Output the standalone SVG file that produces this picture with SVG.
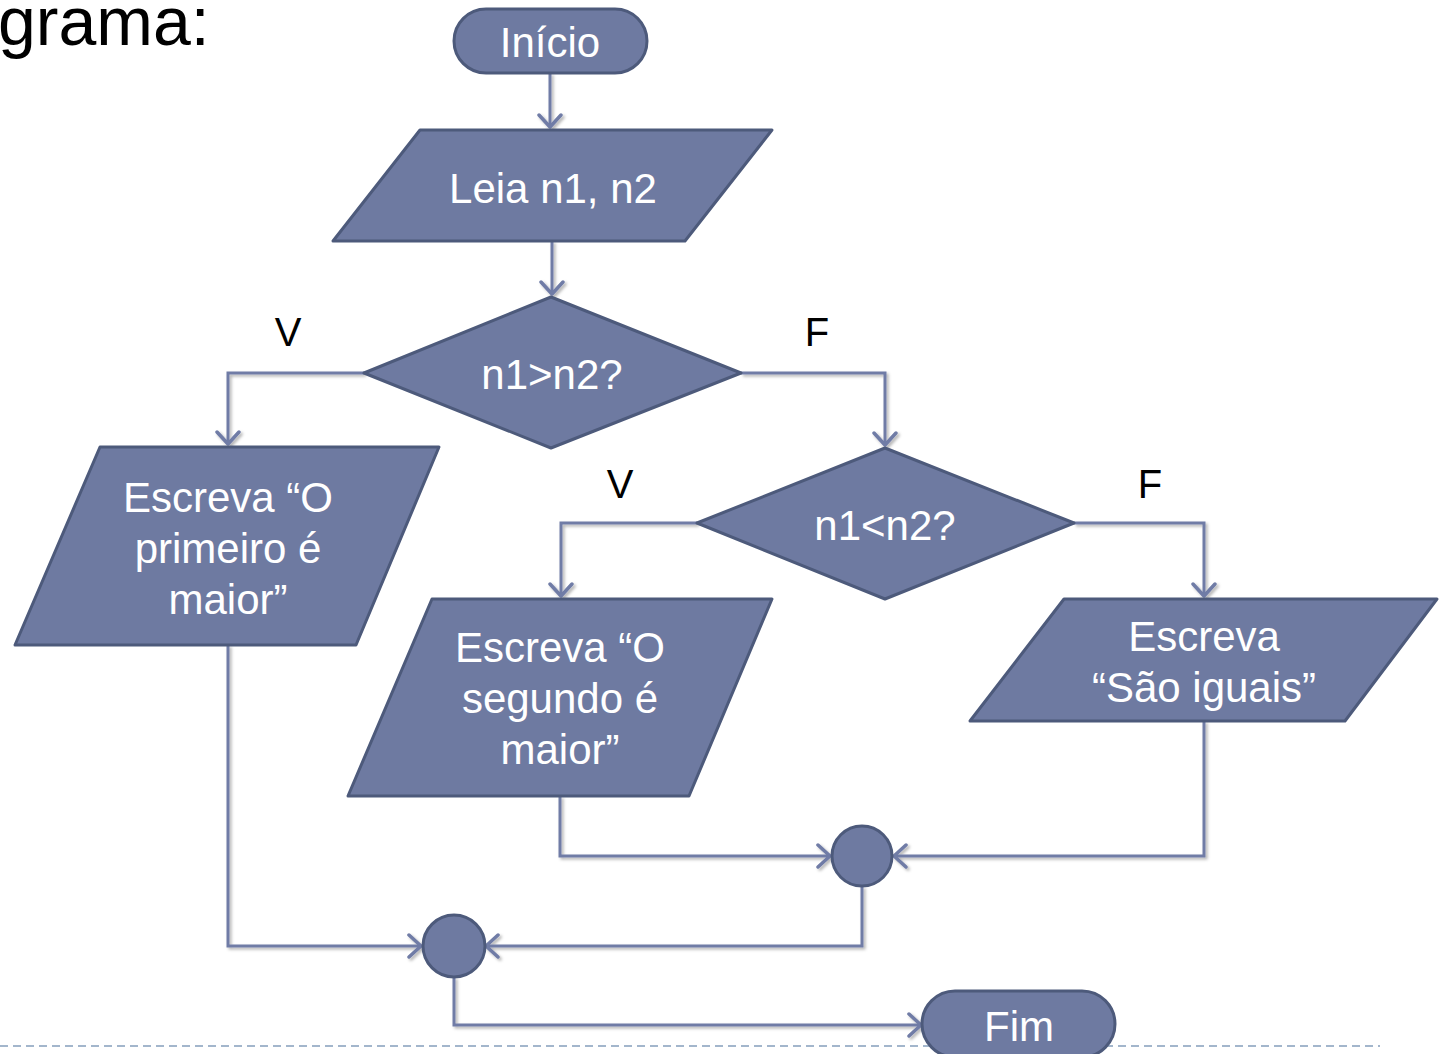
<svg xmlns="http://www.w3.org/2000/svg" width="1439" height="1054" viewBox="0 0 1439 1054">
<style>
.n{fill:#6e7aa1;stroke:#4d5a7b;stroke-width:3;stroke-linejoin:round}
.t{font-family:"Liberation Sans",Arial,sans-serif;font-size:42px;fill:#ffffff;text-anchor:middle}
.l{font-family:"Liberation Sans",Arial,sans-serif;font-size:40px;fill:#000000;text-anchor:middle}
.c{fill:none;stroke:#6f7ba6;stroke-width:3;stroke-linejoin:miter;marker-end:url(#ah)}
</style>
<defs>
<marker id="ah" markerWidth="26" markerHeight="26" refX="15" refY="13" orient="auto" markerUnits="userSpaceOnUse">
<path d="M3,2 L15,13 L3,24" fill="none" stroke="#6f7ba6" stroke-width="3.5" stroke-linecap="round" stroke-linejoin="round"/>
</marker>
<filter id="sh" filterUnits="userSpaceOnUse" x="0" y="0" width="1439" height="1054">
<feDropShadow dx="2" dy="2" stdDeviation="1.5" flood-color="#000000" flood-opacity="0.3"/>
</filter>
</defs>
<text x="-2" y="45" font-family="Liberation Sans, Arial, sans-serif" font-size="68" fill="#000000">grama:</text>
<line x1="0" y1="1046" x2="1380" y2="1046" stroke="#a3b6cc" stroke-width="2" stroke-dasharray="8 5"/>
<g id="connectors" filter="url(#sh)">
<path class="c" d="M550,73 V127"/>
<path class="c" d="M552,241 V294"/>
<path class="c" d="M364,373 H228 V444"/>
<path class="c" d="M741,373 H885 V445"/>
<path class="c" d="M697,523 H561 V596"/>
<path class="c" d="M1074,523 H1204 V596"/>
<path class="c" d="M560,796 V856 H830"/>
<path class="c" d="M1204,721 V856 H894"/>
<path class="c" d="M862,886 V946 H486"/>
<path class="c" d="M228,645 V946 H421"/>
<path class="c" d="M454,977 V1025 H921"/>
</g>
<g id="inicio">
<rect class="n" x="454" y="9" width="193" height="64" rx="32"/>
<text class="t" x="550" y="57">Início</text>
</g>
<g id="leia">
<polygon class="n" points="420,130 772,130 685,241 333,241"/>
<text class="t" x="553" y="203">Leia n1, n2</text>
</g>
<g id="dec1">
<polygon class="n" points="551,297 741,373 551,448 364,373"/>
<text class="t" x="552" y="389">n1&gt;n2?</text>
</g>
<g id="lblV1"><text class="l" x="288" y="346">V</text></g>
<g id="lblF1"><text class="l" x="817" y="346">F</text></g>
<g id="esc1">
<polygon class="n" points="100,447 439,447 356,645 15,645"/>
<text class="t" x="228" y="512">Escreva “O</text>
<text class="t" x="228" y="563">primeiro é</text>
<text class="t" x="228" y="614">maior”</text>
</g>
<g id="dec2">
<polygon class="n" points="885,448 1074,523 885,599 697,523"/>
<text class="t" x="885" y="540">n1&lt;n2?</text>
</g>
<g id="lblV2"><text class="l" x="620" y="498">V</text></g>
<g id="lblF2"><text class="l" x="1150" y="498">F</text></g>
<g id="esc2">
<polygon class="n" points="432,599 772,599 689,796 348,796"/>
<text class="t" x="560" y="662">Escreva “O</text>
<text class="t" x="560" y="713">segundo é</text>
<text class="t" x="560" y="764">maior”</text>
</g>
<g id="esc3">
<polygon class="n" points="1064,599 1437,599 1345,721 970,721"/>
<text class="t" x="1204" y="651">Escreva</text>
<text class="t" x="1204" y="702">“São iguais”</text>
</g>
<g id="junc1"><circle class="n" cx="862" cy="856" r="30"/></g>
<g id="junc2"><circle class="n" cx="454" cy="946" r="31"/></g>
<g id="fim">
<rect class="n" x="922" y="991" width="193" height="66" rx="33"/>
<text class="t" x="1019" y="1041">Fim</text>
</g>
</svg>
